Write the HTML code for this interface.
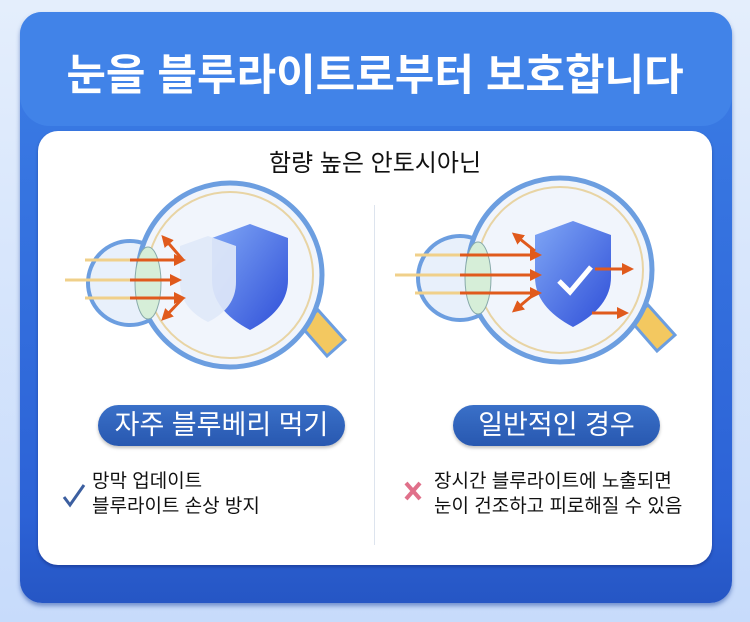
<!DOCTYPE html>
<html><head><meta charset="utf-8"><style>
body{margin:0;width:750px;height:622px;overflow:hidden;background:linear-gradient(#e4eefc,#c7dbfb);font-family:"Liberation Sans","Noto Sans CJK KR",sans-serif;position:relative}
.panel{position:absolute;left:20px;top:12px;width:712px;height:591px;border-radius:22px;background:linear-gradient(#3c7ee6,#2c62d6 85%,#2656c4);box-shadow:0 3px 4px rgba(30,70,160,.5)}
.head{position:absolute;left:20px;top:12px;width:712px;height:114px;border-radius:22px 22px 30px 30px;background:#4183e8}
.title{position:absolute;left:0;width:750px;top:41px;text-align:center;color:#fff;font-size:43px;font-weight:bold}
.card{position:absolute;left:38px;top:131px;width:674px;height:434px;border-radius:20px;background:#fff;box-shadow:0 2px 3px rgba(0,0,60,.3)}
.sub{position:absolute;left:0;width:750px;top:143px;text-align:center;font-size:24px;color:#111}
.pill{position:absolute;top:405px;height:41px;border-radius:21px;background:linear-gradient(#3a70c8,#2858b0);color:#fff;font-size:27px;text-align:center;line-height:40px;box-shadow:0 2px 3px rgba(0,0,0,.25)}
.txt{position:absolute;font-size:19px;line-height:25px;color:#111}
.div{position:absolute;left:374px;top:205px;width:1px;height:340px;background:#dde4ee}
</style></head><body>
<div class="panel"></div><div class="head"></div>
<div class="title">눈을 블루라이트로부터 보호합니다</div>
<div class="card"></div>
<div class="sub">함량 높은 안토시아닌</div>
<div class="div"></div>
<svg width="750" height="622" style="position:absolute;left:0;top:0">
<defs><marker id="a" markerUnits="userSpaceOnUse" markerWidth="12" markerHeight="12" refX="8" refY="6" orient="auto"><path d="M0,0L12,6L0,12z" fill="#e05a1c"/></marker>
<linearGradient id="s" x1="0" y1="0" x2="1" y2="1"><stop offset="0" stop-color="#7fa6f5"/><stop offset="1" stop-color="#2f4fd8"/></linearGradient></defs>
<g id="eye">
<path d="M300,325 L318,310 L345,340 L327,356z" fill="#f3c860" stroke="#6c9ee0" stroke-width="3"/>
<circle cx="130" cy="283" r="42" fill="#e8f0fb" stroke="#6c9ee0" stroke-width="4"/>
<circle cx="230" cy="275" r="92" fill="#f1f5fc" stroke="#6c9ee0" stroke-width="5"/>
<circle cx="230" cy="275" r="83" fill="none" stroke="#e8d4a4" stroke-width="2"/>
<ellipse cx="148" cy="283" rx="13" ry="36" fill="#d6eed8" stroke="#8aa" stroke-width="1"/>
</g>
<path d="M212,238 l38,-14 l38,14 v42 q0,30 -38,50 q-38,-20 -38,-50z" fill="url(#s)"/>
<path d="M180,246 l28,-10 l28,10 v36 q0,26 -28,40 q-28,-14 -28,-40z" fill="#dfe8f8" opacity=".92"/>
<line x1="85" y1="260" x2="170" y2="260" stroke="#f0d08a" stroke-width="3"/>
<line x1="65" y1="280" x2="172" y2="280" stroke="#f0d08a" stroke-width="3"/>
<line x1="85" y1="298" x2="170" y2="298" stroke="#f0d08a" stroke-width="3"/>
<g stroke="#e05a1c" stroke-width="3" marker-end="url(#a)">
<line x1="130" y1="260" x2="182" y2="260"/><line x1="130" y1="280" x2="178" y2="280"/><line x1="130" y1="298" x2="182" y2="298"/>
<line x1="183" y1="260" x2="164" y2="238"/><line x1="183" y1="298" x2="164" y2="318"/></g>
<g transform="translate(330,-5)">
<use href="#eye"/>
<path d="M205,240 l38,-14 l38,14 v42 q0,30 -38,50 q-38,-20 -38,-50z" fill="url(#s)"/>
<path d="M229,286 l11,11 l21,-25" stroke="#fff" stroke-width="5" fill="none"/>
<line x1="85" y1="260" x2="170" y2="260" stroke="#f0d08a" stroke-width="3"/>
<line x1="65" y1="280" x2="172" y2="280" stroke="#f0d08a" stroke-width="3"/>
<line x1="85" y1="298" x2="170" y2="298" stroke="#f0d08a" stroke-width="3"/>
<g stroke="#e05a1c" stroke-width="3" marker-end="url(#a)">
<line x1="130" y1="260" x2="208" y2="260"/><line x1="130" y1="280" x2="208" y2="280"/><line x1="130" y1="298" x2="208" y2="298"/>
<line x1="205" y1="256" x2="185" y2="240"/><line x1="203" y1="300" x2="185" y2="315"/>
<line x1="265" y1="274" x2="300" y2="274"/><line x1="262" y1="318" x2="295" y2="318"/></g>
</g>
<path d="M64,497 l6,8 l14,-20" stroke="#3c5fa0" stroke-width="3" fill="none"/>
<path d="M406,483 l14,16 M420,483 l-14,16" stroke="#e0708a" stroke-width="4"/>
</svg>
<div class="pill" style="left:98px;width:247px">자주 블루베리 먹기</div>
<div class="pill" style="left:453px;width:207px">일반적인 경우</div>
<div class="txt" style="left:92px;top:469px">망막 업데이트<br>블루라이트 손상 방지</div>
<div class="txt" style="left:434px;top:469px">장시간 블루라이트에 노출되면<br>눈이 건조하고 피로해질 수 있음</div>
</body></html>
